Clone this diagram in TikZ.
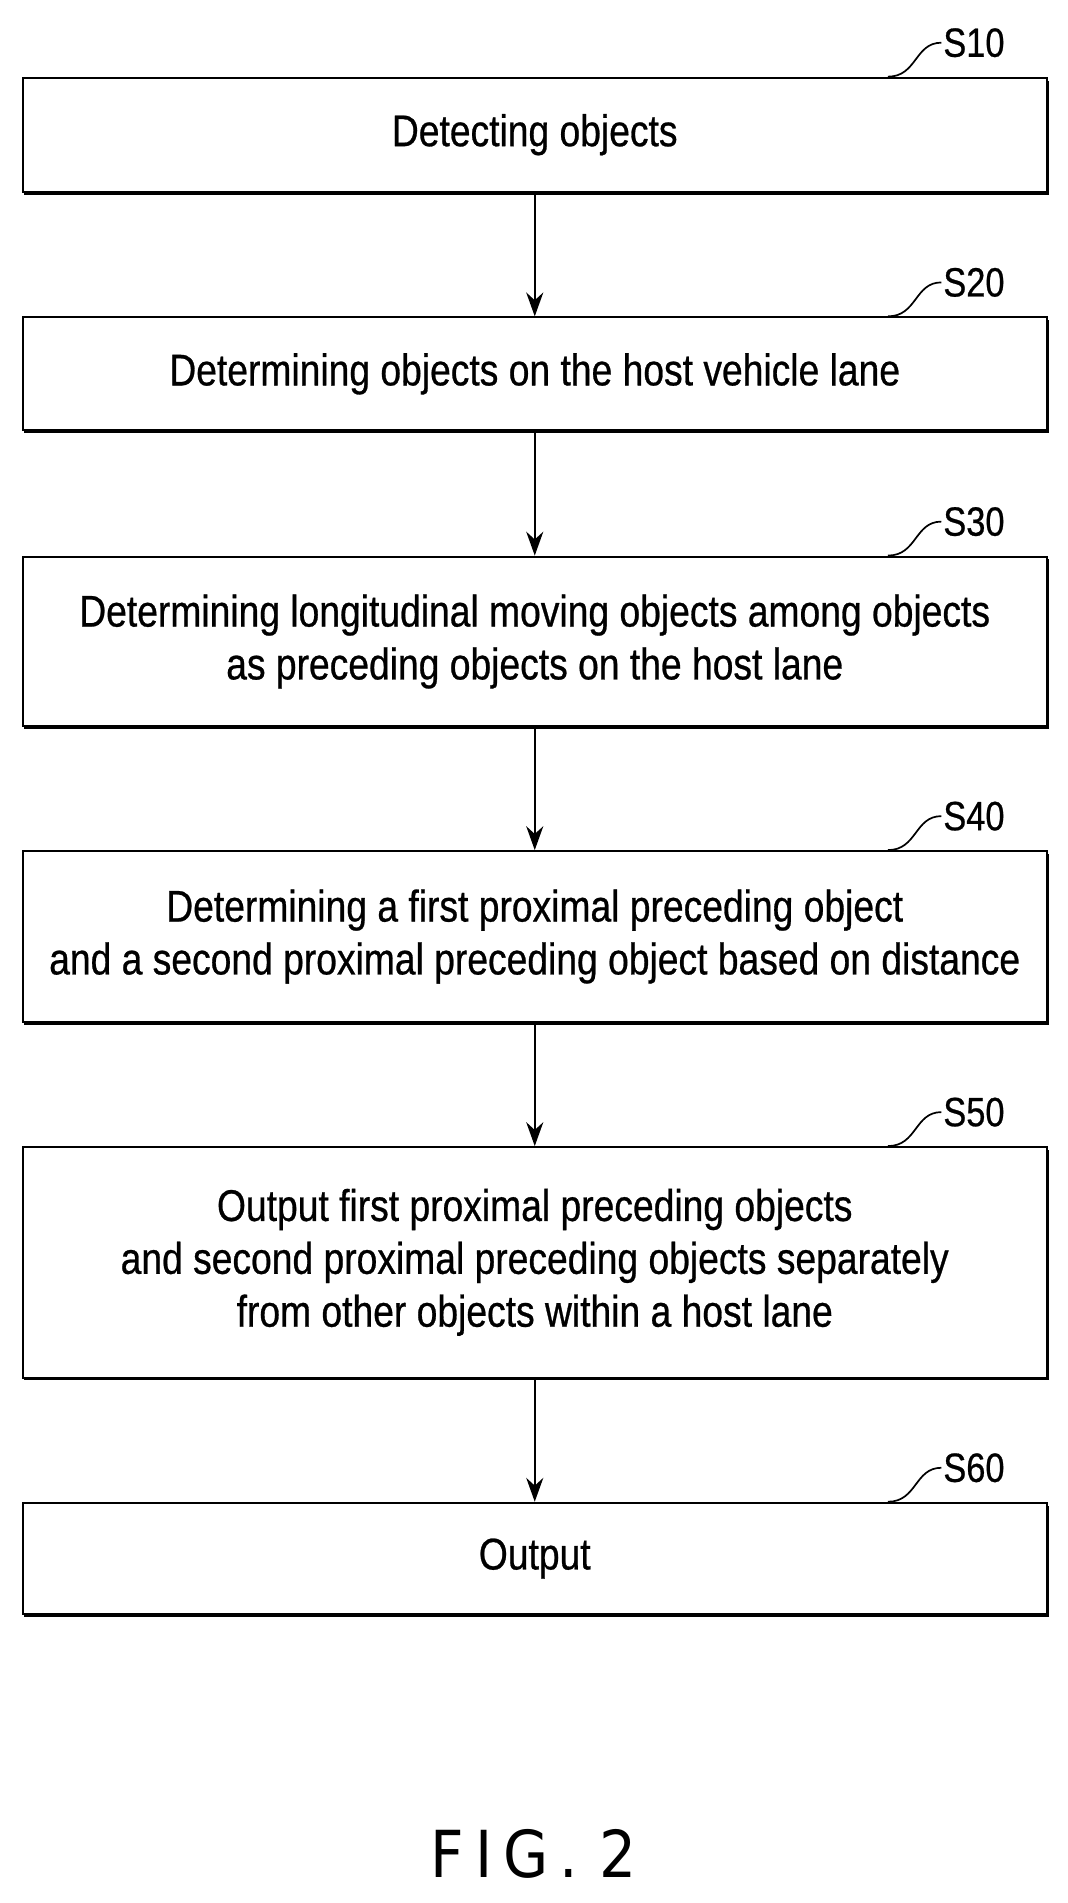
\documentclass[tikz,border=0pt]{standalone}
\usepackage{fontspec}
\setmainfont{Liberation Sans}[FakeStretch=0.84,FakeBold=0.6]
\newfontfamily\figfont{DejaVu Sans}[FakeStretch=0.9]
\usetikzlibrary{positioning,arrows.meta}
\tikzset{
  box/.style={draw,fill=white,line width=1.2pt,minimum width=21.1cm,align=center,
    font=\fontsize{26}{31}\selectfont},
  shade/.style={fill=black},
  flow/.style={-{Stealth[length=14pt,width=10pt]},line width=1.1pt},
  tag/.style={font=\fontsize{24}{28}\selectfont,anchor=west,inner sep=1pt},
  lead/.style={line width=1pt}
}
\newcommand{\stepbox}[4]{% name, top y, height, text
  \fill[shade] (0.5,#2-0.08) rectangle (21.62,#2-#3-0.08);
  \node[box,minimum height=#3cm,anchor=north west] (#1) at (0.45,#2) {#4};
}
\begin{document}
\begin{tikzpicture}
\useasboundingbox (0,0) rectangle (22,-39.22);
\stepbox{s10}{-1.58}{2.35}{Detecting objects}
\stepbox{s20}{-6.52}{2.33}{Determining objects on the host vehicle lane}
\stepbox{s30}{-11.45}{3.5}{Determining longitudinal moving objects among objects\\as preceding objects on the host lane}
\stepbox{s40}{-17.52}{3.52}{Determining a first proximal preceding object\\and a second proximal preceding object based on distance}
\stepbox{s50}{-23.62}{4.75}{Output first proximal preceding objects\\and second proximal preceding objects separately\\from other objects within a host lane}
\stepbox{s60}{-30.95}{2.3}{Output}

% step labels
\foreach \n/\y in {s10/-1.58,s20/-6.52,s30/-11.45,s40/-17.52,s50/-23.62,s60/-30.95}{
  \coordinate (\n-a) at (18.3,\y);
  \coordinate (\n-b) at (19.4,\y+0.7);
  \draw[lead] (\n-a) .. controls (18.9,\y) and (18.85,\y+0.7) .. (\n-b);
  \node[tag] at (\n-b) {\MakeUppercase{\n}};
}

\draw[flow] (s10) -- (s20);
\draw[flow] (s20) -- (s30);
\draw[flow] (s30) -- (s40);
\draw[flow] (s40) -- (s50);
\draw[flow] (s50) -- (s60);

\node[font=\figfont\fontsize{38}{44}\selectfont] (fig) at (11,-38.2) {F\,I\,G\,.\,\,2};
\end{tikzpicture}
\end{document}
